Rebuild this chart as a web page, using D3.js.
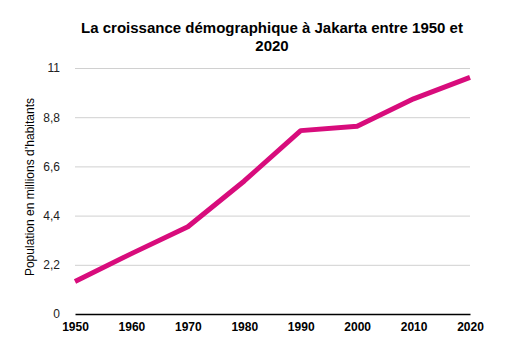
<!DOCTYPE html>
<html>
<head>
<meta charset="utf-8">
<script src="https://cdn.jsdelivr.net/npm/d3@7"></script>
<style>
  body { margin: 0; background: #fff; }
  svg { font-family: "Liberation Sans", Arial, Helvetica, sans-serif; }
</style>
</head>
<body>
<div id="chart"></div>
<script>
// Data
const years = [1950, 1960, 1970, 1980, 1990, 2000, 2010, 2020];
const population = [1.45, 2.70, 3.90, 5.95, 8.20, 8.40, 9.62, 10.58];
const yTicks = [0, 2.2, 4.4, 6.6, 8.8, 11];

const W = 512, H = 350;
const margin = { top: 68, right: 42, bottom: 36, left: 75 };
const width = W - margin.left - margin.right;
const height = H - margin.top - margin.bottom;

const svg = d3.select("#chart").append("svg")
    .attr("width", W)
    .attr("height", H);

// Title (two lines)
const title = svg.append("text")
    .attr("text-anchor", "middle")
    .style("font-size", "15px")
    .style("font-weight", "bold")
    .attr("fill", "#000");
title.append("tspan").attr("x", 272).attr("y", 33)
    .text("La croissance démographique à Jakarta entre 1950 et");
title.append("tspan").attr("x", 272).attr("y", 51).text("2020");

const g = svg.append("g")
    .attr("transform", `translate(${margin.left},${margin.top})`);

const x = d3.scaleLinear().domain([1950, 2020]).range([0, width]);
const y = d3.scaleLinear().domain([0, 11]).range([height, 0]);

const fmt = v => String(v).replace(".", ",");

// Y gridlines + labels
const yAxis = g.append("g")
    .call(d3.axisLeft(y).tickValues(yTicks).tickSize(-width).tickFormat(fmt).tickPadding(15));
yAxis.select(".domain").remove();
yAxis.selectAll(".tick line").attr("stroke", "#d0d0d0").attr("stroke-width", 1);
yAxis.selectAll(".tick text")
    .style("font-size", "12px")
    .attr("fill", "#222");
yAxis.selectAll(".tick").filter(d => d === 0).select("line").remove();

// X axis
const xAxis = g.append("g")
    .attr("transform", `translate(0,${height})`)
    .call(d3.axisBottom(x).tickValues(years).tickSize(0).tickFormat(d3.format("d")).tickPadding(8));
xAxis.select(".domain").attr("stroke", "#000").attr("stroke-width", 1.5);
xAxis.selectAll(".tick text")
    .style("font-size", "12px")
    .style("font-weight", "bold")
    .attr("fill", "#000");

// Y axis title
svg.append("text")
    .attr("transform", "rotate(-90)")
    .attr("x", -187)
    .attr("y", 34)
    .attr("text-anchor", "middle")
    .style("font-size", "12px")
    .attr("fill", "#000")
    .text("Population en millions d’habitants");

// Line
const line = d3.line()
    .x((d, i) => x(years[i]))
    .y(d => y(d));

g.append("path")
    .datum(population)
    .attr("fill", "none")
    .attr("stroke", "#d80c7c")
    .attr("stroke-width", 5)
    .attr("stroke-linejoin", "round")
    .attr("d", line);
</script>
</body>
</html>
